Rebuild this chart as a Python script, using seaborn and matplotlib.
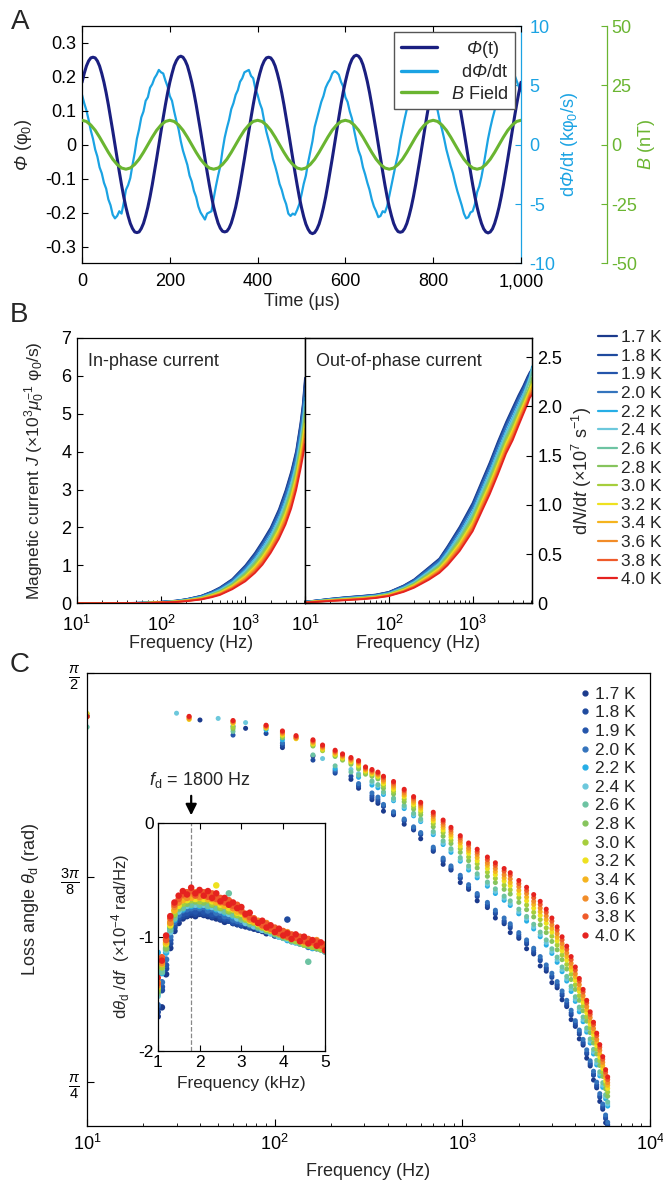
import numpy as np
import pandas as pd
import matplotlib
matplotlib.use('Agg')
import matplotlib.pyplot as plt
from matplotlib.lines import Line2D
from matplotlib.ticker import FuncFormatter, LogLocator, NullFormatter
import seaborn as sns

nan = np.nan

# ---------------- panel A : time traces ----------------
t_us = np.arange(0, 1001, 5)
phi_t = [
    0.184, 0.210, 0.232, 0.247, 0.256, 0.258, 0.256, 0.247, 0.232, 0.210, 0.184, 0.153, 0.118, 0.080, 0.041, 0.000,
    -0.041, -0.080, -0.118, -0.153, -0.184, -0.210, -0.232, -0.247, -0.257, -0.259, -0.257, -0.247, -0.232, -0.210,
    -0.184, -0.153, -0.118, -0.080, -0.041, 0.000, 0.041, 0.080, 0.118, 0.153,
    0.184, 0.210, 0.233, 0.248, 0.258, 0.261, 0.258, 0.248, 0.233, 0.210, 0.184, 0.153, 0.118, 0.080, 0.041, 0.000,
    -0.041, -0.080, -0.118, -0.153, -0.184, -0.209, -0.231, -0.246, -0.255, -0.257, -0.255, -0.246, -0.231, -0.209,
    -0.184, -0.153, -0.118, -0.080, -0.041, 0.000, 0.041, 0.080, 0.118, 0.153,
    0.184, 0.210, 0.232, 0.247, 0.256, 0.258, 0.256, 0.247, 0.232, 0.210, 0.184, 0.153, 0.118, 0.080, 0.041, 0.000,
    -0.041, -0.080, -0.118, -0.154, -0.185, -0.212, -0.234, -0.249, -0.259, -0.262, -0.259, -0.249, -0.234, -0.212,
    -0.185, -0.154, -0.118, -0.080, -0.041, 0.000, 0.041, 0.080, 0.119, 0.155,
    0.186, 0.213, 0.236, 0.252, 0.261, 0.264, 0.261, 0.252, 0.236, 0.213, 0.186, 0.154, 0.118, 0.080, 0.041, 0.000,
    -0.041, -0.080, -0.118, -0.153, -0.184, -0.210, -0.232, -0.247, -0.256, -0.258, -0.256, -0.247, -0.232, -0.210,
    -0.184, -0.153, -0.118, -0.080, -0.041, 0.000, 0.041, 0.080, 0.118, 0.153,
    0.184, 0.210, 0.232, 0.247, 0.256, 0.258, 0.256, 0.247, 0.232, 0.210, 0.184, 0.153, 0.118, 0.080, 0.041, 0.000,
    -0.041, -0.080, -0.118, -0.153, -0.184, -0.210, -0.232, -0.248, -0.257, -0.260, -0.257, -0.248, -0.232, -0.210,
    -0.184, -0.153, -0.118, -0.080, -0.041, 0.000, 0.041, 0.080, 0.118, 0.153,
    0.184]
dphi_dt = [
    4.2, 3.5, 2.9, 2.1, 1.2, 0.5, -0.4, -1.0, -1.9, -2.4, -3.2, -3.7, -4.6, -5.1, -5.9, -6.2, -6.0, -5.6, -5.8, -4.9,
    -3.8, -3.4, -2.8, -1.7, -0.7, 0.5, 1.3, 2.3, 2.8, 3.7, 4.0, 4.8, 5.1, 5.6, 5.9, 6.3, 6.1, 6.0, 5.4, 4.9,
    4.1, 3.7, 2.8, 2.0, 1.3, 0.3, -0.5, -1.1, -1.7, -2.6, -3.1, -3.9, -4.4, -5.2, -5.7, -6.0, -6.3, -5.8, -5.7, -5.6,
    -4.5, -3.5, -2.6, -1.8, -0.5, 0.6, 1.4, 2.1, 3.0, 3.5, 4.2, 4.6, 5.3, 5.6, 6.1, 6.2, 6.3, 5.8, 5.6, 4.7,
    4.2, 3.5, 3.0, 2.0, 1.1, 0.4, -0.3, -1.2, -1.8, -2.5, -3.3, -3.8, -4.5, -5.0, -5.8, -6.0, -5.8, -5.9, -5.5, -5.0,
    -4.2, -3.3, -2.6, -1.5, -0.6, 0.3, 1.5, 2.2, 2.9, 3.6, 4.1, 4.8, 5.2, 5.5, 6.0, 6.2, 6.1, 5.9, 5.3, 4.9,
    4.0, 3.6, 2.8, 2.2, 1.2, 0.3, -0.5, -1.0, -1.9, -2.5, -3.2, -3.8, -4.6, -5.2, -5.6, -6.1, -6.0, -5.6, -5.7, -5.2,
    -4.3, -3.4, -2.5, -1.6, -0.8, 0.4, 1.3, 2.2, 3.0, 3.6, 4.2, 4.7, 5.1, 5.7, 5.9, 6.2, 6.3, 5.8, 5.5, 4.8,
    4.2, 3.5, 2.9, 2.0, 1.3, 0.5, -0.4, -1.1, -1.8, -2.4, -3.2, -3.9, -4.5, -5.1, -5.8, -6.2, -6.1, -5.7, -5.6, -5.0,
    -4.0, -3.5, -2.7, -1.7, -0.6, 0.5, 1.4, 2.2, 2.9, 3.7, 4.1, 4.7, 5.3, 5.6, 6.0, 6.2, 6.1, 5.9, 5.4, 4.9,
    4.5]
t_b = np.arange(0, 1001, 10)
b_field = [
    10.3, 9.8, 8.3, 6.1, 3.2, 0.0, -3.2, -6.1, -8.3, -9.8, -10.3, -9.8, -8.3, -6.1, -3.2, 0.0, 3.2, 6.1, 8.3, 9.8,
    10.3, 9.8, 8.3, 6.1, 3.2, 0.0, -3.2, -6.1, -8.3, -9.8, -10.3, -9.8, -8.3, -6.1, -3.2, 0.0, 3.2, 6.1, 8.3, 9.8,
    10.3, 9.8, 8.3, 6.1, 3.2, 0.0, -3.2, -6.1, -8.3, -9.8, -10.3, -9.8, -8.3, -6.1, -3.2, 0.0, 3.2, 6.1, 8.3, 9.8,
    10.3, 9.8, 8.3, 6.1, 3.2, 0.0, -3.2, -6.1, -8.3, -9.8, -10.3, -9.8, -8.3, -6.1, -3.2, 0.0, 3.2, 6.1, 8.3, 9.8,
    10.3, 9.8, 8.3, 6.1, 3.2, 0.0, -3.2, -6.1, -8.3, -9.8, -10.3, -9.8, -8.3, -6.1, -3.2, 0.0, 3.2, 6.1, 8.3, 9.8,
    10.3]

temps = ['1.7 K', '1.8 K', '1.9 K', '2.0 K', '2.2 K', '2.4 K', '2.6 K',
         '2.8 K', '3.0 K', '3.2 K', '3.4 K', '3.6 K', '3.8 K', '4.0 K']
temp_colors = ['#1b3a8c', '#1f4a9e', '#2455ab', '#3474bd', '#26aee6', '#6cc8dc', '#6dc3a2',
               '#86c45d', '#a6ce3c', '#eee11f', '#f5b41e', '#f28c28', '#ef5a2a', '#e5221f']

# ---------------- panel B : magnetic current ----------------
f_b = [10, 20, 30, 50, 70, 100, 150, 200, 300, 400, 500, 700, 1000, 1300, 1600, 2000, 2500, 3000, 3500, 4000,
       4500, 4800, 5100]
j_inphase = [
    [0.000, 0.003, 0.006, 0.012, 0.020, 0.040, 0.070, 0.110, 0.200, 0.310, 0.420, 0.640, 1.000, 1.330, 1.640, 2.000, 2.480, 2.980, 3.480, 4.020, 4.750, 5.250, 5.950],
    [0.000, 0.003, 0.006, 0.011, 0.019, 0.039, 0.068, 0.107, 0.195, 0.303, 0.410, 0.627, 0.979, 1.304, 1.609, 1.967, 2.441, 2.935, 3.431, 3.968, 4.689, 5.180, 5.863],
    [0.000, 0.003, 0.005, 0.011, 0.019, 0.038, 0.067, 0.105, 0.190, 0.295, 0.400, 0.613, 0.958, 1.277, 1.578, 1.933, 2.402, 2.890, 3.382, 3.916, 4.627, 5.110, 5.775],
    [0.000, 0.003, 0.005, 0.011, 0.018, 0.037, 0.064, 0.101, 0.184, 0.286, 0.388, 0.597, 0.933, 1.245, 1.541, 1.893, 2.355, 2.836, 3.323, 3.854, 4.553, 5.026, 5.670],
    [0.000, 0.002, 0.005, 0.010, 0.017, 0.034, 0.060, 0.094, 0.170, 0.265, 0.360, 0.559, 0.874, 1.171, 1.454, 1.799, 2.246, 2.710, 3.186, 3.708, 4.381, 4.830, 5.425],
    [0.000, 0.002, 0.005, 0.010, 0.016, 0.033, 0.057, 0.090, 0.164, 0.256, 0.348, 0.543, 0.849, 1.139, 1.417, 1.759, 2.199, 2.656, 3.127, 3.646, 4.307, 4.746, 5.320],
    [0.000, 0.002, 0.005, 0.009, 0.016, 0.031, 0.055, 0.086, 0.156, 0.244, 0.332, 0.521, 0.815, 1.097, 1.367, 1.705, 2.137, 2.584, 3.049, 3.562, 4.209, 4.634, 5.180],
    [0.000, 0.002, 0.004, 0.009, 0.015, 0.029, 0.051, 0.081, 0.147, 0.231, 0.314, 0.497, 0.777, 1.049, 1.311, 1.645, 2.067, 2.503, 2.961, 3.469, 4.098, 4.508, 5.023],
    [0.000, 0.002, 0.004, 0.008, 0.014, 0.028, 0.049, 0.076, 0.139, 0.219, 0.298, 0.475, 0.744, 1.007, 1.262, 1.591, 2.004, 2.431, 2.882, 3.386, 4.000, 4.396, 4.883],
    [0.000, 0.002, 0.004, 0.008, 0.013, 0.026, 0.046, 0.072, 0.131, 0.207, 0.282, 0.454, 0.710, 0.964, 1.212, 1.538, 1.942, 2.359, 2.804, 3.302, 3.901, 4.284, 4.743],
    [0.000, 0.002, 0.004, 0.007, 0.012, 0.025, 0.043, 0.068, 0.123, 0.195, 0.266, 0.432, 0.677, 0.922, 1.163, 1.484, 1.879, 2.287, 2.725, 3.219, 3.803, 4.172, 4.603],
    [0.000, 0.001, 0.003, 0.007, 0.011, 0.023, 0.040, 0.063, 0.115, 0.183, 0.250, 0.411, 0.643, 0.880, 1.113, 1.431, 1.817, 2.215, 2.647, 3.136, 3.705, 4.060, 4.463],
    [0.000, 0.001, 0.003, 0.006, 0.011, 0.022, 0.038, 0.059, 0.108, 0.172, 0.236, 0.392, 0.614, 0.842, 1.070, 1.384, 1.762, 2.152, 2.578, 3.063, 3.618, 3.962, 4.340],
    [0.000, 0.001, 0.003, 0.006, 0.010, 0.020, 0.035, 0.055, 0.100, 0.160, 0.220, 0.370, 0.580, 0.800, 1.020, 1.330, 1.700, 2.080, 2.500, 2.980, 3.520, 3.850, 4.200]]
j_outphase = [
    [0.040, 0.120, 0.160, 0.200, 0.230, 0.300, 0.470, 0.630, 0.950, 1.180, 1.500, 2.020, 2.650, 3.250, 3.720, 4.270, 4.780, 5.160, 5.480, 5.730, 5.980, 6.100, 6.180],
    [0.039, 0.117, 0.156, 0.196, 0.226, 0.295, 0.462, 0.619, 0.934, 1.161, 1.475, 1.988, 2.613, 3.210, 3.678, 4.227, 4.739, 5.117, 5.440, 5.693, 5.944, 6.066, 6.146],
    [0.038, 0.114, 0.152, 0.191, 0.221, 0.289, 0.453, 0.608, 0.917, 1.142, 1.450, 1.956, 2.575, 3.170, 3.636, 4.183, 4.697, 5.074, 5.399, 5.655, 5.907, 6.032, 6.112],
    [0.037, 0.110, 0.147, 0.186, 0.216, 0.282, 0.443, 0.595, 0.897, 1.119, 1.420, 1.918, 2.530, 3.122, 3.586, 4.131, 4.647, 5.022, 5.350, 5.610, 5.863, 5.991, 6.071],
    [0.034, 0.102, 0.136, 0.173, 0.203, 0.267, 0.419, 0.564, 0.851, 1.066, 1.350, 1.828, 2.425, 3.010, 3.468, 4.009, 4.531, 4.902, 5.237, 5.505, 5.800, 5.980, 6.250],
    [0.033, 0.098, 0.131, 0.168, 0.198, 0.260, 0.409, 0.551, 0.831, 1.043, 1.320, 1.790, 2.380, 2.962, 3.418, 3.957, 4.481, 4.850, 5.188, 5.460, 5.780, 5.950, 6.200],
    [0.031, 0.094, 0.125, 0.160, 0.190, 0.252, 0.395, 0.533, 0.805, 1.013, 1.280, 1.738, 2.320, 2.898, 3.350, 3.887, 4.415, 4.782, 5.124, 5.400, 5.720, 5.880, 6.100],
    [0.029, 0.088, 0.118, 0.152, 0.182, 0.242, 0.380, 0.513, 0.775, 0.979, 1.235, 1.681, 2.253, 2.826, 3.275, 3.809, 4.340, 4.704, 5.051, 5.333, 5.593, 5.740, 5.950],
    [0.028, 0.083, 0.111, 0.145, 0.175, 0.233, 0.366, 0.496, 0.749, 0.948, 1.195, 1.630, 2.193, 2.762, 3.208, 3.739, 4.274, 4.635, 4.986, 5.273, 5.535, 5.685, 5.850],
    [0.026, 0.079, 0.105, 0.138, 0.168, 0.224, 0.353, 0.478, 0.722, 0.918, 1.155, 1.578, 2.133, 2.698, 3.140, 3.670, 4.207, 4.567, 4.921, 5.213, 5.476, 5.631, 5.780],
    [0.025, 0.074, 0.098, 0.131, 0.161, 0.215, 0.339, 0.461, 0.696, 0.887, 1.115, 1.527, 2.073, 2.634, 3.073, 3.600, 4.141, 4.498, 4.856, 5.153, 5.418, 5.576, 5.700],
    [0.023, 0.069, 0.092, 0.124, 0.154, 0.207, 0.326, 0.443, 0.670, 0.857, 1.075, 1.476, 2.013, 2.570, 3.006, 3.531, 4.075, 4.429, 4.792, 5.093, 5.359, 5.522, 5.620],
    [0.022, 0.065, 0.086, 0.117, 0.147, 0.199, 0.314, 0.428, 0.646, 0.830, 1.040, 1.431, 1.960, 2.514, 2.947, 3.470, 4.016, 4.369, 4.735, 5.040, 5.308, 5.474, 5.560],
    [0.020, 0.060, 0.080, 0.110, 0.140, 0.190, 0.300, 0.410, 0.620, 0.800, 1.000, 1.380, 1.900, 2.450, 2.880, 3.400, 3.950, 4.300, 4.670, 4.980, 5.250, 5.420, 5.500]]

# ---------------- panel C : loss angle ----------------
f_c_low = [10, 30, 35, 40, 50, 60, 70, 90, 110, 130, 160, 180, 210, 230, 255, 280, 305, 330, 355]
f_c_high = [380, 430, 490, 550, 600, 700, 790, 870, 975, 1080, 1200, 1360, 1500, 1670, 1800, 2000, 2200, 2400,
            2600, 2800, 3000, 3200, 3400, 3600, 3800, 4000, 4200, 4400, 4600, 4800, 5000, 5200, 5400, 5600, 5800, 5950]
theta_low = [
    [1.487, nan, nan, 1.480, nan, nan, 1.464, nan, 1.427, nan, 1.411, nan, nan, nan, 1.366, 1.349, nan, 1.327, 1.320],
    [1.487, nan, nan, nan, nan, nan, nan, 1.454, 1.431, nan, 1.403, nan, 1.378, nan, 1.372, 1.353, nan, 1.331, 1.324],
    [1.487, nan, nan, nan, nan, 1.451, nan, nan, 1.435, nan, nan, nan, 1.381, nan, nan, 1.355, nan, 1.335, 1.328],
    [1.487, nan, nan, nan, nan, 1.468, nan, nan, 1.436, nan, nan, nan, 1.384, nan, nan, 1.358, nan, 1.340, 1.332],
    [1.487, nan, nan, nan, nan, nan, nan, 1.461, 1.442, nan, nan, nan, 1.387, nan, nan, 1.370, nan, 1.355, 1.350],
    [1.467, 1.493, nan, nan, 1.483, nan, 1.475, nan, nan, nan, nan, 1.406, nan, nan, 1.385, 1.377, nan, 1.360, 1.354],
    [1.466, nan, nan, nan, nan, 1.458, nan, nan, nan, nan, 1.413, nan, 1.392, nan, 1.380, 1.374, nan, 1.363, 1.356],
    [1.492, nan, nan, nan, nan, 1.463, nan, nan, 1.446, nan, 1.430, nan, 1.410, 1.403, 1.395, 1.386, 1.376, 1.372, 1.367],
    [1.492, nan, nan, nan, nan, 1.466, nan, 1.464, 1.449, nan, 1.432, 1.421, 1.412, 1.405, 1.398, 1.390, 1.379, 1.375, 1.370],
    [1.492, nan, 1.481, nan, nan, 1.473, nan, 1.465, 1.451, 1.444, 1.434, 1.424, 1.414, 1.407, 1.400, 1.393, 1.382, 1.377, 1.372],
    [1.486, nan, 1.482, nan, nan, 1.475, nan, 1.466, 1.453, 1.445, 1.436, 1.426, 1.416, 1.409, 1.402, 1.396, 1.384, 1.379, 1.374],
    [1.486, nan, 1.484, nan, nan, 1.476, nan, 1.467, 1.455, 1.446, 1.438, 1.428, 1.418, 1.411, 1.404, 1.398, 1.386, 1.381, 1.376],
    [1.486, nan, 1.486, nan, nan, 1.478, nan, 1.469, 1.457, 1.448, 1.440, 1.430, 1.420, 1.413, 1.406, 1.400, 1.388, 1.383, 1.378],
    [1.487, nan, 1.487, nan, nan, 1.479, nan, 1.470, 1.459, 1.450, 1.442, 1.432, 1.422, 1.415, 1.408, 1.402, 1.390, 1.385, 1.380]]
theta_high = [
    [1.305, 1.298, 1.280, 1.269, 1.252, 1.228, 1.203, 1.192, 1.168, 1.155, 1.133, 1.120, 1.100, 1.089, 1.072, 1.061, 1.041, 1.031, 1.008, 0.998, 0.976, 0.966, 0.943, 0.930, 0.905, 0.892, 0.868, 0.856, 0.831, 0.816, 0.789, 0.774, 0.748, 0.733, 0.707, 0.698],
    [1.314, 1.300, 1.286, 1.271, 1.260, 1.230, 1.209, 1.194, 1.176, 1.158, 1.141, 1.123, 1.108, 1.092, 1.081, 1.064, 1.050, 1.034, 1.018, 1.002, 0.986, 0.970, 0.951, 0.933, 0.914, 0.895, 0.877, 0.859, 0.839, 0.819, 0.798, 0.777, 0.756, 0.736, 0.715, 0.701],
    [1.316, 1.302, 1.288, 1.273, 1.262, 1.233, 1.212, 1.197, 1.178, 1.160, 1.144, 1.126, 1.111, 1.095, 1.085, 1.068, 1.054, 1.038, 1.021, 1.005, 0.989, 0.973, 0.955, 0.937, 0.918, 0.899, 0.881, 0.862, 0.842, 0.822, 0.801, 0.780, 0.759, 0.739, 0.718, 0.704],
    [1.318, 1.304, 1.290, 1.275, 1.264, 1.236, 1.215, 1.200, 1.182, 1.164, 1.147, 1.130, 1.115, 1.100, 1.089, 1.072, 1.058, 1.042, 1.026, 1.010, 0.994, 0.978, 0.960, 0.942, 0.923, 0.903, 0.885, 0.867, 0.847, 0.826, 0.806, 0.785, 0.763, 0.743, 0.722, 0.708],
    [1.337, 1.325, 1.310, 1.296, 1.285, 1.260, 1.241, 1.226, 1.209, 1.192, 1.177, 1.161, 1.147, 1.134, 1.124, 1.108, 1.094, 1.079, 1.064, 1.048, 1.032, 1.015, 0.997, 0.979, 0.959, 0.940, 0.920, 0.901, 0.881, 0.860, 0.839, 0.818, 0.797, 0.775, 0.753, 0.739],
    [1.340, 1.327, 1.313, 1.298, 1.287, 1.263, 1.244, 1.230, 1.212, 1.196, 1.181, 1.165, 1.151, 1.138, 1.128, 1.112, 1.099, 1.083, 1.068, 1.053, 1.036, 1.020, 1.001, 0.983, 0.964, 0.944, 0.925, 0.905, 0.885, 0.864, 0.843, 0.822, 0.801, 0.779, 0.757, 0.743],
    [1.342, 1.330, 1.316, 1.301, 1.290, 1.266, 1.248, 1.233, 1.216, 1.200, 1.185, 1.169, 1.156, 1.142, 1.133, 1.117, 1.103, 1.088, 1.073, 1.058, 1.041, 1.025, 1.006, 0.988, 0.969, 0.949, 0.929, 0.910, 0.889, 0.868, 0.848, 0.827, 0.805, 0.784, 0.761, 0.747],
    [1.349, 1.338, 1.323, 1.309, 1.298, 1.275, 1.257, 1.243, 1.226, 1.210, 1.196, 1.180, 1.168, 1.155, 1.146, 1.130, 1.116, 1.102, 1.087, 1.072, 1.055, 1.039, 1.020, 1.002, 0.982, 0.963, 0.942, 0.922, 0.902, 0.880, 0.860, 0.839, 0.817, 0.796, 0.772, 0.758],
    [1.354, 1.343, 1.328, 1.314, 1.303, 1.281, 1.264, 1.249, 1.233, 1.217, 1.204, 1.188, 1.176, 1.163, 1.154, 1.139, 1.125, 1.111, 1.097, 1.081, 1.065, 1.048, 1.029, 1.011, 0.992, 0.972, 0.951, 0.931, 0.910, 0.889, 0.869, 0.848, 0.826, 0.804, 0.780, 0.766],
    [1.358, 1.347, 1.333, 1.318, 1.307, 1.286, 1.269, 1.255, 1.238, 1.224, 1.210, 1.195, 1.183, 1.171, 1.162, 1.146, 1.133, 1.119, 1.105, 1.090, 1.073, 1.056, 1.037, 1.019, 1.000, 0.980, 0.959, 0.938, 0.918, 0.896, 0.876, 0.855, 0.833, 0.811, 0.787, 0.773],
    [1.362, 1.351, 1.336, 1.322, 1.311, 1.290, 1.274, 1.260, 1.244, 1.229, 1.216, 1.201, 1.189, 1.177, 1.168, 1.153, 1.140, 1.126, 1.112, 1.097, 1.080, 1.063, 1.044, 1.026, 1.006, 0.987, 0.965, 0.945, 0.924, 0.902, 0.882, 0.861, 0.839, 0.817, 0.793, 0.779],
    [1.365, 1.355, 1.340, 1.326, 1.315, 1.295, 1.279, 1.265, 1.249, 1.234, 1.222, 1.206, 1.195, 1.183, 1.175, 1.160, 1.147, 1.132, 1.119, 1.104, 1.087, 1.070, 1.051, 1.033, 1.013, 0.993, 0.972, 0.951, 0.930, 0.909, 0.888, 0.867, 0.846, 0.823, 0.798, 0.784],
    [1.369, 1.359, 1.344, 1.330, 1.319, 1.299, 1.284, 1.270, 1.254, 1.240, 1.227, 1.212, 1.201, 1.190, 1.182, 1.166, 1.153, 1.139, 1.126, 1.111, 1.094, 1.077, 1.058, 1.040, 1.020, 1.000, 0.979, 0.958, 0.937, 0.915, 0.895, 0.874, 0.852, 0.829, 0.804, 0.790],
    [1.372, 1.362, 1.347, 1.333, 1.322, 1.303, 1.288, 1.274, 1.258, 1.244, 1.232, 1.217, 1.206, 1.195, 1.187, 1.172, 1.159, 1.145, 1.132, 1.117, 1.100, 1.083, 1.064, 1.046, 1.026, 1.006, 0.984, 0.963, 0.942, 0.920, 0.900, 0.879, 0.857, 0.834, 0.809, 0.795]]

# inset: d(theta)/df in 1e-4 rad/Hz, frequency in kHz
f_inset = np.round(np.arange(1.0, 5.01, 0.1), 2)
dtheta_df = [
    [-1.70, -1.62, -1.33, -1.10, -0.95, -0.88, -0.84, -0.82, -0.81, -0.82, -0.80, -0.81, -0.82, -0.83, -0.84, -0.85, -0.87, -0.86, -0.88, -0.89, -0.90, -0.91, -0.91, -0.93, -0.94, -0.95, -0.97, -0.96, -0.99, -0.98, -1.00, -1.01, -1.03, -1.02, -1.05, -1.04, -1.06, -1.08, -1.07, -1.10, -1.11],
    [-1.66, -1.47, -1.28, -1.06, -0.92, -0.85, -0.82, -0.81, -0.79, -0.80, -0.79, -0.80, -0.80, -0.82, -0.81, -0.84, -0.85, -0.86, -0.88, -0.89, -0.90, -0.89, -0.92, -0.91, -0.93, -0.94, -0.96, -0.95, -0.97, -0.98, -0.99, -0.85, -1.02, -1.04, -1.04, -1.06, -1.07, -1.08, -1.10, -1.09, -1.11],
    [-1.62, -1.44, -1.25, -1.03, -0.90, -0.83, -0.80, -0.79, -0.77, -0.78, -0.76, -0.78, -0.78, -0.80, -0.80, -0.82, -0.84, -0.84, -0.87, -0.87, -0.89, -0.88, -0.91, -0.90, -0.92, -0.94, -0.95, -0.96, -0.98, -0.97, -1.00, -1.02, -1.03, -1.02, -1.05, -1.06, -1.08, -1.06, -1.09, -1.11, -1.12],
    [-1.60, -1.40, -1.20, -1.00, -0.87, -0.81, -0.77, -0.76, -0.75, -0.74, -0.75, -0.74, -0.77, -0.76, -0.79, -0.79, -0.82, -0.82, -0.85, -0.86, -0.87, -0.88, -0.90, -0.89, -0.93, -0.92, -0.95, -0.95, -0.97, -0.99, -1.01, -1.00, -1.04, -1.03, -1.06, -1.05, -1.09, -1.07, -1.10, -1.09, -1.13],
    [-1.14, -1.32, -1.14, -0.93, -0.85, -0.77, -0.76, -0.72, -0.73, -0.71, -0.73, -0.71, -0.74, -0.73, -0.76, -0.76, -0.79, -0.79, -0.82, -0.83, -0.85, -0.87, -0.88, -0.90, -0.91, -0.94, -0.94, -0.97, -0.97, -1.00, -0.99, -1.03, -1.02, -1.05, -1.04, -1.07, -1.06, -1.10, -1.08, -1.11, -1.10],
    [-1.52, -1.29, -1.12, -0.96, -0.82, -0.78, -0.73, -0.73, -0.70, -0.72, -0.70, -0.72, -0.71, -0.74, -0.73, -0.77, -0.77, -0.80, -0.80, -0.84, -0.84, -0.88, -0.87, -0.91, -0.90, -0.94, -0.93, -0.97, -0.96, -1.00, -0.99, -1.02, -1.02, -1.05, -1.04, -1.07, -1.06, -1.09, -1.08, -1.11, -1.11],
    [-1.50, -1.31, -1.11, -0.94, -0.84, -0.76, -0.75, -0.71, -0.72, -0.69, -0.72, -0.70, -0.73, -0.71, -0.75, -0.74, -0.78, -0.62, -0.81, -0.81, -0.85, -0.85, -0.89, -0.88, -0.92, -0.92, -0.95, -0.95, -0.98, -0.98, -1.01, -1.00, -1.04, -1.03, -1.06, -1.05, -1.22, -1.07, -1.10, -1.09, -1.13],
    [-1.48, -1.25, -1.10, -0.91, -0.81, -0.75, -0.70, -0.71, -0.67, -0.69, -0.66, -0.70, -0.68, -0.72, -0.70, -0.75, -0.73, -0.78, -0.77, -0.81, -0.83, -0.83, -0.87, -0.86, -0.91, -0.89, -0.94, -0.92, -0.97, -0.95, -1.00, -0.97, -1.03, -0.99, -1.05, -1.02, -1.08, -1.04, -1.10, -1.06, -1.12],
    [-1.46, -1.27, -1.07, -0.89, -0.80, -0.72, -0.71, -0.67, -0.68, -0.66, -0.69, -0.67, -0.68, -0.71, -0.69, -0.74, -0.73, -0.77, -0.76, -0.81, -0.80, -0.85, -0.84, -0.88, -0.87, -0.92, -0.90, -0.95, -0.93, -0.98, -0.96, -1.01, -0.99, -1.04, -1.01, -1.07, -1.03, -1.09, -1.05, -1.11, -1.08],
    [-1.44, -1.22, -1.06, -0.90, -0.77, -0.73, -0.68, -0.68, -0.65, -0.67, -0.64, -0.67, -0.66, -0.69, -0.55, -0.72, -0.72, -0.75, -0.76, -0.79, -0.80, -0.83, -0.86, -0.85, -0.89, -0.90, -0.93, -0.92, -0.96, -0.95, -0.99, -0.98, -1.02, -1.00, -1.04, -1.03, -1.06, -1.04, -1.08, -1.06, -1.10],
    [-1.40, -1.24, -1.05, -0.87, -0.77, -0.70, -0.68, -0.65, -0.66, -0.63, -0.66, -0.64, -0.67, -0.66, -0.70, -0.69, -0.73, -0.72, -0.75, -0.78, -0.78, -0.83, -0.84, -0.87, -0.87, -0.91, -0.90, -0.94, -0.93, -0.97, -0.96, -0.99, -1.00, -1.01, -1.02, -1.05, -1.03, -1.06, -1.05, -1.08, -1.07],
    [-1.43, -1.23, -1.02, -0.88, -0.74, -0.70, -0.64, -0.66, -0.62, -0.61, -0.65, -0.62, -0.63, -0.67, -0.64, -0.70, -0.69, -0.70, -0.75, -0.74, -0.78, -0.80, -0.85, -0.84, -0.86, -0.90, -0.88, -0.93, -0.94, -0.94, -0.97, -0.96, -1.00, -0.99, -1.03, -1.01, -1.04, -1.04, -1.03, -1.07, -1.09],
    [-1.41, -1.18, -1.03, -0.84, -0.72, -0.67, -0.63, -0.61, -0.60, -0.64, -0.60, -0.61, -0.65, -0.62, -0.67, -0.66, -0.70, -0.68, -0.73, -0.72, -0.77, -0.81, -0.83, -0.84, -0.88, -0.90, -0.89, -0.93, -0.92, -0.97, -0.95, -1.00, -0.98, -1.01, -1.00, -1.04, -1.02, -1.05, -1.04, -1.08, -1.07],
    [-1.36, -1.21, -0.99, -0.82, -0.70, -0.64, -0.60, -0.63, -0.57, -0.62, -0.59, -0.64, -0.60, -0.66, -0.62, -0.69, -0.66, -0.72, -0.70, -0.75, -0.74, -0.80, -0.79, -0.85, -0.88, -0.86, -0.92, -0.90, -0.96, -0.93, -0.99, -0.97, -1.02, -0.98, -1.04, -1.00, -1.06, -1.03, -1.08, -1.05, -1.12]]

# ---------------- style ----------------
sns.set_style('ticks')
plt.rcParams['font.family'] = ['Liberation Sans', 'DejaVu Sans']
plt.rcParams.update({
    'mathtext.fontset': 'custom',
    'mathtext.rm': 'Liberation Sans',
    'mathtext.it': 'Liberation Sans:italic',
    'mathtext.sf': 'Liberation Sans:italic',
    'mathtext.bf': 'Liberation Sans:bold',
    'axes.unicode_minus': False,
    'font.size': 13,
    'axes.edgecolor': 'black',
    'axes.linewidth': 0.9,
    'xtick.color': 'black',
    'ytick.color': 'black',
    'xtick.direction': 'in',
    'ytick.direction': 'in',
})

palette = dict(zip(temps, temp_colors))
navy, sky, lime = '#1a1f80', '#1ba3e3', '#6ab531'
FS = 13

fig = plt.figure(figsize=(6.63, 11.82), dpi=100)

# ================= A =================
ax_a = fig.add_axes([0.1237, 0.7771, 0.6621, 0.2009])
ax_r = ax_a.twinx()
ax_g = ax_a.twinx()
ax_r.set_zorder(1)
ax_a.set_zorder(2)
ax_g.set_zorder(3)
ax_a.patch.set_visible(False)
ax_g.patch.set_visible(False)

sns.lineplot(x=t_us, y=dphi_dt, ax=ax_r, color=sky, lw=1.6)
sns.lineplot(x=t_us, y=phi_t, ax=ax_a, color=navy, lw=2.2)
sns.lineplot(x=t_b, y=b_field, ax=ax_g, color=lime, lw=2.2)

ax_a.set_xlim(0, 1000)
ax_a.set_ylim(-0.35, 0.35)
ax_a.set_yticks([-0.3, -0.2, -0.1, 0, 0.1, 0.2, 0.3])
ax_a.yaxis.set_major_formatter(FuncFormatter(lambda v, _: '0' if abs(v) < 1e-9 else f'{v:.1f}'))
ax_a.set_xticks([0, 200, 400, 600, 800, 1000])
ax_a.xaxis.set_major_formatter(FuncFormatter(lambda v, _: f'{v:,.0f}'))
ax_a.tick_params(axis='y', direction='in', length=4, labelsize=FS, right=False, pad=4)
ax_a.tick_params(axis='x', direction='in', length=4, labelsize=FS, top=True, pad=7)
ax_a.spines['right'].set_visible(False)

ax_r.set_ylim(-10, 10)
ax_r.set_yticks([-10, -5, 0, 5, 10])
ax_r.tick_params(axis='y', direction='in', length=4, colors=sky, labelsize=FS, pad=6)
for s in ['left', 'top', 'bottom']:
    ax_r.spines[s].set_visible(False)
ax_r.spines['right'].set_color(sky)

ax_g.set_ylim(-50, 50)
ax_g.set_yticks([-50, -25, 0, 25, 50])
ax_g.spines['right'].set_position(('axes', 1.196))
ax_g.tick_params(axis='y', direction='in', length=4, colors=lime, labelsize=FS, pad=3)
for s in ['left', 'top', 'bottom']:
    ax_g.spines[s].set_visible(False)
ax_g.spines['right'].set_color(lime)

ax_a.set_xlabel('Time (μs)', fontsize=FS)
ax_a.set_ylabel(r'$\mathsf{\Phi}$ (φ$_0$)', fontsize=FS)
ax_r.set_ylabel(r'd$\mathsf{\Phi}$/dt (kφ$_0$/s)', fontsize=FS, color=sky)
ax_g.set_ylabel(r'$B$ (nT)', fontsize=FS, color=lime)
ax_a.xaxis.set_label_coords(0.5, -0.125)
ax_a.yaxis.set_label_coords(-0.109, 0.5)
ax_r.yaxis.set_label_coords(1.087, 0.5)
ax_g.yaxis.set_label_coords(1.262, 0.5)

leg_handles = [Line2D([0], [0], color=navy, lw=2.4), Line2D([0], [0], color=sky, lw=2.4),
               Line2D([0], [0], color=lime, lw=2.4)]
leg_labels = [r'   $\mathsf{\Phi}$(t)', r'  d$\mathsf{\Phi}$/dt', r'$B$ Field']
ax_g.legend(leg_handles, leg_labels, loc='upper right', frameon=True, fancybox=False, edgecolor='#555555',
            framealpha=1, fontsize=FS, handlelength=2.0, borderaxespad=0.35, borderpad=0.35,
            labelspacing=0.25, handletextpad=0.8)

# ================= B =================
rows_in, rows_out = [], []
for i, t in enumerate(temps):
    for f, a, b in zip(f_b, j_inphase[i], j_outphase[i]):
        rows_in.append((f, a, t))
        rows_out.append((f, b, t))
df_in = pd.DataFrame(rows_in, columns=['freq', 'J', 'temp'])
df_out = pd.DataFrame(rows_out, columns=['freq', 'J', 'temp'])

ax_b1 = fig.add_axes([0.1157, 0.4896, 0.3443, 0.2245])
ax_b2 = fig.add_axes([0.4600, 0.4896, 0.3424, 0.2245])
sns.lineplot(data=df_in, x='freq', y='J', hue='temp', hue_order=temps, palette=palette,
             estimator=None, sort=False, lw=1.3, legend=False, ax=ax_b1)
sns.lineplot(data=df_out, x='freq', y='J', hue='temp', hue_order=temps, palette=palette,
             estimator=None, sort=False, lw=1.3, legend=False, ax=ax_b2)

for ax in (ax_b1, ax_b2):
    ax.set_xscale('log')
    ax.set_xlim(10, 5100)
    ax.set_ylim(0, 7)
    ax.xaxis.set_major_locator(LogLocator(base=10, numticks=10))
    ax.xaxis.set_minor_locator(LogLocator(base=10, subs=np.arange(2, 10), numticks=20))
    ax.xaxis.set_minor_formatter(NullFormatter())
    ax.tick_params(axis='x', which='major', direction='in', length=5, labelsize=FS, top=False, pad=8)
    ax.tick_params(axis='x', which='minor', direction='in', length=2.5, top=False)
    ax.set_xlabel('Frequency (Hz)', fontsize=FS)
    ax.xaxis.set_label_coords(0.5, -0.12)
ax_b1.set_yticks(range(0, 8))
ax_b1.tick_params(axis='y', direction='in', length=4, labelsize=FS, right=False, pad=4)
ax_b1.set_ylabel(r'Magnetic current $J$ (×10$^3$$\mu_0^{-1}$ φ$_0$/s)', fontsize=12.5)
ax_b1.yaxis.set_label_coords(-0.13, 0.5)
ax_b2.tick_params(axis='y', left=False, right=False, labelleft=False)
ax_b2.set_ylabel('')

ax_b2r = ax_b2.twinx()
ax_b2r.set_ylim(0, 7 / 2.597)
ax_b2r.set_yticks([0, 0.5, 1.0, 1.5, 2.0, 2.5])
ax_b2r.yaxis.set_major_formatter(FuncFormatter(lambda v, _: '0' if v == 0 else f'{v:.1f}'))
ax_b2r.tick_params(axis='y', direction='in', length=4, labelsize=FS, pad=4)
ax_b2r.set_ylabel(r'd$N$/d$t$ (×10$^7$ s$^{-1}$)', fontsize=FS)
ax_b2r.yaxis.set_label_coords(1.167, 0.5)

ax_b1.text(0.05, 0.91, 'In-phase current', transform=ax_b1.transAxes, va='center', fontsize=FS)
ax_b2.text(0.048, 0.91, 'Out-of-phase current', transform=ax_b2.transAxes, va='center', fontsize=FS)

line_handles = [Line2D([0], [0], color=c, lw=1.6) for c in temp_colors]
fig.legend(line_handles, temps, loc='upper left', bbox_to_anchor=(598 / 663, 1 - 330 / 1182),
           frameon=False, fontsize=12.5, handlelength=1.1, handletextpad=0.25, labelspacing=0.2,
           borderaxespad=0, borderpad=0)

# ================= C =================
f_c = f_c_low + f_c_high
rows_c = []
for i, t in enumerate(temps):
    for f, v in zip(f_c, theta_low[i] + theta_high[i]):
        if not np.isnan(v):
            rows_c.append((f, v, t))
df_c = pd.DataFrame(rows_c, columns=['freq', 'theta', 'temp'])

ax_c = fig.add_axes([0.1312, 0.0474, 0.8492, 0.3835])
sns.scatterplot(data=df_c, x='freq', y='theta', hue='temp', hue_order=temps, palette=palette,
                s=13, linewidth=0, legend=False, ax=ax_c)
ax_c.set_xscale('log')
ax_c.set_xlim(10, 1e4)
ax_c.set_ylim(0.7009, np.pi / 2)
ax_c.set_yticks([np.pi / 4, 3 * np.pi / 8, np.pi / 2])
ax_c.set_yticklabels([r'$\frac{\pi}{4}$', r'$\frac{3\pi}{8}$', r'$\frac{\pi}{2}$'], fontsize=15)
ax_c.xaxis.set_major_locator(LogLocator(base=10, numticks=10))
ax_c.xaxis.set_minor_locator(LogLocator(base=10, subs=np.arange(2, 10), numticks=20))
ax_c.xaxis.set_minor_formatter(NullFormatter())
ax_c.tick_params(axis='x', which='major', direction='in', length=5, labelsize=FS, top=False, pad=6)
ax_c.tick_params(axis='x', which='minor', direction='in', length=2.5, top=False)
ax_c.tick_params(axis='y', direction='in', length=5, right=False, pad=5)
ax_c.set_xlabel('Frequency (Hz)', fontsize=FS)
ax_c.set_ylabel(r'Loss angle $\theta_{\rm d}$ (rad)', fontsize=FS)
ax_c.xaxis.set_label_coords(0.5, -0.082)
ax_c.yaxis.set_label_coords(-0.082, 0.5)

dot_handles = [Line2D([0], [0], marker='o', ls='', color=c, markersize=3.5) for c in temp_colors]
ax_c.legend(dot_handles, temps, loc='upper right', frameon=False, fontsize=12.5, handlelength=0.8,
            handletextpad=0.2, labelspacing=0.2, borderaxespad=0.4)

# ---- inset ----
rows_i = []
for i, t in enumerate(temps):
    for f, v in zip(f_inset, dtheta_df[i]):
        rows_i.append((f, v, t))
df_i = pd.DataFrame(rows_i, columns=['freq', 'slope', 'temp'])

ax_in = fig.add_axes([0.2379, 0.1111, 0.2523, 0.1929])
ax_in.axvline(1.8, color='#888888', ls='--', lw=0.9, zorder=0.5)
sns.scatterplot(data=df_i, x='freq', y='slope', hue='temp', hue_order=temps, palette=palette,
                s=22, linewidth=0, legend=False, ax=ax_in)
ax_in.set_xlim(1, 5)
ax_in.set_ylim(-2, 0)
ax_in.set_xticks([1, 2, 3, 4, 5])
ax_in.set_yticks([-2, -1, 0])
ax_in.tick_params(axis='both', direction='in', length=4, labelsize=12.5, top=True, pad=3)
ax_in.set_xlabel('Frequency (kHz)', fontsize=12.5)
ax_in.set_ylabel(r'd$\theta_{\rm d}$ /d$f$  (×10$^{-4}$ rad/Hz)', fontsize=12)
ax_in.xaxis.set_label_coords(0.5, -0.111)
ax_in.yaxis.set_label_coords(-0.154, 0.5)
ax_in.annotate('', xy=(1.8, 0.04), xytext=(1.8, 0.26), xycoords='data',
               arrowprops=dict(arrowstyle='-|>,head_width=0.25,head_length=0.5', color='black', lw=1.6),
               annotation_clip=False)
ax_in.text(2.0, 0.37, r'$f_{\rm d}$ = 1800 Hz', ha='center', va='center', fontsize=FS, clip_on=False)

# panel letters
fig.text(20 / 663, 1 - 22 / 1182, 'A', fontsize=20, ha='center', va='center')
fig.text(19 / 663, 1 - 315 / 1182, 'B', fontsize=20, ha='center', va='center')
fig.text(20 / 663, 1 - 665 / 1182, 'C', fontsize=20, ha='center', va='center')

fig.savefig('out.png', dpi=100)
